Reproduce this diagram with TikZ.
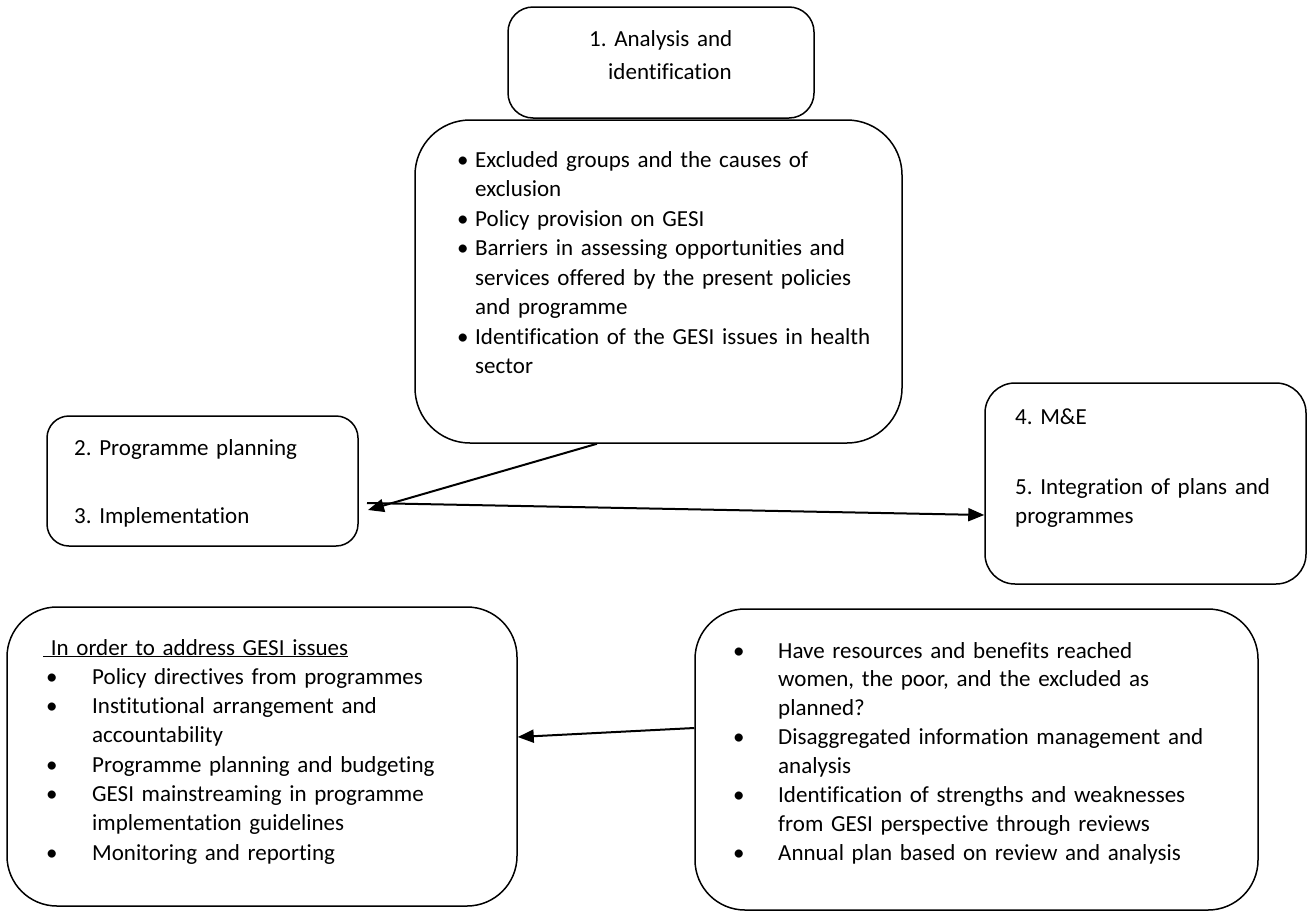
\documentclass[tikz,border=0pt]{standalone}
\usepackage{fontspec}
\setmainfont[Ligatures=NoCommon]{Carlito}
\usetikzlibrary{arrows.meta,calc}
\newcommand{\bulletbox}[1]{\makebox[#1][l]{\textbullet}}
\newcommand{\hangbox}[1]{\hspace*{#1}}
\tikzset{
  box/.style={draw=black, line width=1.5pt, fill=none, inner sep=0pt},
  txt/.style={anchor=base west, inner sep=0pt, align=left},
  arr/.style={line width=2pt, -{Triangle[length=16pt,width=13pt]}},
  plainline/.style={line width=2pt}
}
\begin{document}
\frenchspacing
\begin{tikzpicture}[x=1pt,y=-1pt]
\useasboundingbox[fill=white] (0,0) rectangle (1308,913);

% boxes
\node[box, rounded corners=25pt, minimum width=306pt, minimum height=111pt] (b1) at (661,62.5) {};
\node[box, rounded corners=55pt, minimum width=487pt, minimum height=323pt] (b2) at (658.5,281.5) {};
\node[box, rounded corners=22pt, minimum width=311pt, minimum height=130pt] (b3) at (202.5,481) {};
\node[box, rounded corners=30pt, minimum width=321pt, minimum height=201pt] (b4) at (1145.5,483.5) {};
\node[box, rounded corners=50pt, minimum width=510pt, minimum height=299pt] (b5) at (262,756.5) {};
\node[box, rounded corners=50pt, minimum width=563pt, minimum height=301pt] (b6) at (976.5,759.5) {};

% texts
\node[txt, text width=260pt, font=\fontsize{23}{33}\selectfont\frenchspacing] (t1) at (589,46)
  {1. Analysis and\\\hangbox{19pt}identification};

\node[txt, text width=440pt, font=\fontsize{23}{29.5}\selectfont\frenchspacing] (t2) at (457,167)
  {\bulletbox{18pt}Excluded groups and the causes of\\
   \hangbox{18pt}exclusion\\
   \bulletbox{18pt}Policy provision on GESI\\
   \bulletbox{18pt}Barriers in assessing opportunities and\\
   \hangbox{18pt}services offered by the present policies\\
   \hangbox{18pt}and programme\\
   \bulletbox{18pt}Identification of the GESI issues in health\\
   \hangbox{18pt}sector};

\node[txt, text width=280pt, font=\fontsize{23}{29.5}\selectfont\frenchspacing] (t3) at (74,455)
  {2. Programme planning\\[38.5pt]3. Implementation};

\node[txt, text width=290pt, font=\fontsize{23}{29.5}\selectfont\frenchspacing] (t4) at (1015,424)
  {4. M\&E\\[40.5pt]5. Integration of plans and\\programmes};

\node[txt, text width=470pt, font=\fontsize{23}{29.3}\selectfont\frenchspacing] (t5) at (43,655)
  {\underline{\ In order to address GESI issues}\\
   \hangbox{3pt}\bulletbox{46pt}Policy directives from programmes\\
   \hangbox{3pt}\bulletbox{46pt}Institutional arrangement and\\
   \hangbox{49pt}accountability\\
   \hangbox{3pt}\bulletbox{46pt}Programme planning and budgeting\\
   \hangbox{3pt}\bulletbox{46pt}GESI mainstreaming in programme\\
   \hangbox{49pt}implementation guidelines\\
   \hangbox{3pt}\bulletbox{46pt}Monitoring and reporting};

\node[txt, text width=510pt, font=\fontsize{23}{28.9}\selectfont\frenchspacing] (t6) at (733,658)
  {\bulletbox{45pt}Have resources and benefits reached\\
   \hangbox{45pt}women, the poor, and the excluded as\\
   \hangbox{45pt}planned?\\
   \bulletbox{45pt}Disaggregated information management and\\
   \hangbox{45pt}analysis\\
   \bulletbox{45pt}Identification of strengths and weaknesses\\
   \hangbox{45pt}from GESI perspective through reviews\\
   \bulletbox{45pt}Annual plan based on review and analysis};

% connectors
\coordinate (tip1) at (368,510);
\coordinate (s2) at (367,503);
\draw[arr] ($(b2.south west)!0.374!(b2.south east)$) -- (tip1);
\draw[arr] (s2) -- ($(b4.west)+(0,31.5)$);
\draw[arr] ($(b6.west)+(0,-31.5)$) -- ($(b5.east)+(0,-19.5)$);
\end{tikzpicture}
\end{document}
